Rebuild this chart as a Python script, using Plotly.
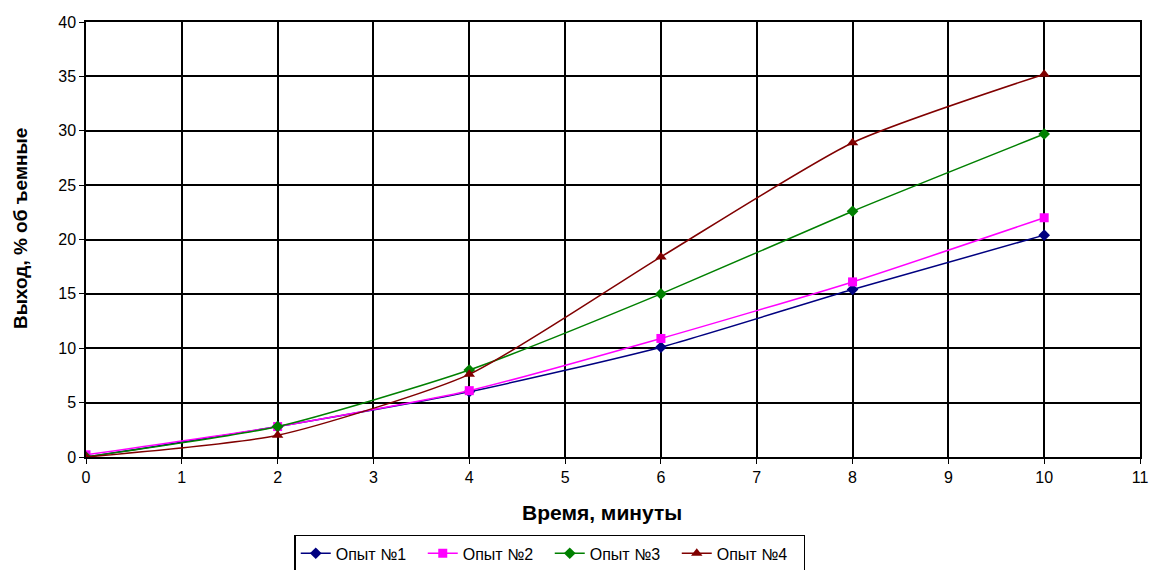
import plotly.graph_objects as go

time_min = [0, 2, 4, 6, 8, 10]
opyt1 = [0.0, 2.8, 6.0, 10.1, 15.4, 20.4]
opyt2 = [0.2, 2.8, 6.1, 10.9, 16.1, 22.0]
opyt3 = [0.0, 2.8, 8.0, 15.0, 22.6, 29.7]
opyt4 = [0.0, 2.0, 7.6, 18.4, 28.9, 35.2]
names = ["Опыт №1", "Опыт №2", "Опыт №3", "Опыт №4"]
x_ticks = list(range(0, 12))
y_ticks = list(range(0, 45, 5))
x_title = "Время, минуты"
y_title = "Выход, % об ъемные"

colors = ["#000080", "#FF00FF", "#008000", "#800000"]
symbols = ["diamond", "square", "diamond", "triangle-up"]
sizes = [9, 9, 9, 10]

FONT = "Liberation Sans, Arial, sans-serif"

fig = go.Figure()
for name, ys, c, s, sz in zip(names, [opyt1, opyt2, opyt3, opyt4], colors, symbols, sizes):
    fig.add_trace(go.Scatter(
        x=time_min, y=ys, name=name, mode="lines+markers",
        line=dict(color=c, width=1.5, shape="spline", smoothing=0.6),
        marker=dict(color=c, symbol=s, size=sz),
    ))

fig.update_layout(
    width=1150, height=570,
    margin=dict(l=86, r=10, t=22, b=113, autoexpand=False),
    paper_bgcolor="white", plot_bgcolor="white",
    font=dict(family=FONT, size=16, color="black"),
    showlegend=True,
    legend=dict(
        orientation="h", x=0.44, xanchor="center", y=-0.179, yanchor="top",
        bordercolor="black", borderwidth=1.5, font=dict(size=16, family=FONT),
        tracegroupgap=0, entrywidth=82,
    ),
    annotations=[
        dict(text="<b>" + x_title + "</b>", xref="paper", yref="paper",
             x=0.4896, y=-0.1287, xanchor="center", yanchor="middle",
             showarrow=False, font=dict(size=21, family=FONT)),
        dict(text="<b>" + y_title + "</b>", xref="paper", yref="paper",
             x=-0.0626, y=0.524, xanchor="center", yanchor="middle", textangle=-90,
             showarrow=False, font=dict(size=19, family=FONT)),
    ],
)
fig.update_xaxes(
    range=[0, 11], tickvals=x_ticks, showgrid=True, gridcolor="black", gridwidth=1.5,
    showline=True, linecolor="black", linewidth=1.5, mirror=True,
    ticks="outside", ticklen=5, tickcolor="black", zeroline=False, automargin=False,
    tickfont=dict(size=16),
)
fig.update_yaxes(
    range=[0, 40], tickvals=y_ticks, showgrid=True, gridcolor="black", gridwidth=1.5,
    showline=True, linecolor="black", linewidth=1.5, mirror=True,
    ticks="outside", ticklen=5, tickcolor="black", zeroline=False, automargin=False,
    tickfont=dict(size=16),
)

fig.write_html("out.html", config={"displayModeBar": False},
               post_script="document.body.style.margin='0';")
